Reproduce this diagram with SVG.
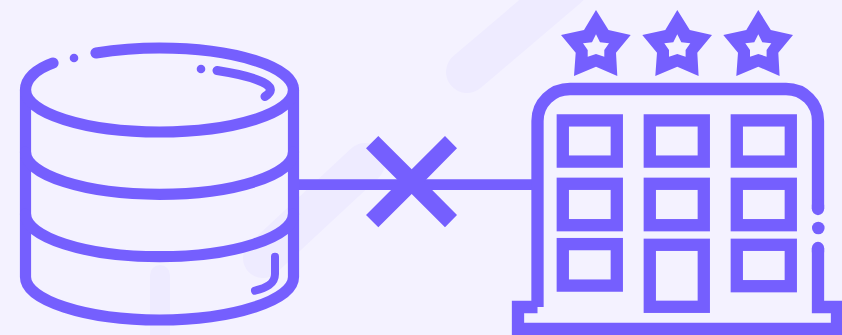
<svg xmlns="http://www.w3.org/2000/svg" width="842" height="335" viewBox="0 0 842 335">
<style>
.bg{stroke:#eeebff;fill:none;stroke-linecap:round}
.l{fill:none;stroke:#755ffe;stroke-width:11.2;stroke-linecap:round;stroke-linejoin:round}
.m{fill:none;stroke:#755ffe;stroke-width:12.3;stroke-miterlimit:10}
.f{fill:#755ffe}
</style>
<defs>
<path id="star" fill-rule="evenodd" d="M0 10 L12.500 30 L34.700 35 L20 52.700 L21.300 76 L0 66.700 L-22 76 L-20.300 52.700 L-35 35 L-12 30 Z M0 34.300 L-4 42.300 L-13 43.300 L-8.300 50 L-8.300 56.700 L0 54 L8.300 56.700 L8.300 50 L13 43.300 L4 42.300 Z"/>
</defs>
<rect width="842" height="335" fill="#f4f2ff"/>
<g id="decor">
<path class="bg" stroke-width="42" d="M467 72L567 -13"/>
<path class="bg" stroke-width="40" d="M365 163L263 258"/>
<path class="bg" stroke-width="20" d="M160 275V345"/>
</g>
<g id="connectors">
<path d="M296 184.700H534" stroke="#755ffe" stroke-width="10.700" fill="none"/>
</g>
<g id="database">
<path class="l" d="M53 63C36 69 25.500 79 25.500 90V277C25.500 300 85 320 159.500 320S293.500 300 293.500 277V90C293.500 67 234 48 159.500 48C137 48 115 50 96 53"/>
<path class="l" d="M25.500 90C25.500 113 85 132 159.500 132S293.500 113 293.500 90"/>
<path class="l" d="M25.500 152C25.500 175 85 194.300 159.500 194.300S293.500 175 293.500 152"/>
<path class="l" d="M25.500 214C25.500 237 85 256.700 159.500 256.700S293.500 237 293.500 214"/>
<circle class="f" cx="74" cy="58" r="4.300"/>
<circle class="f" cx="201" cy="69" r="4.300"/>
<path class="l" style="stroke-width:9" d="M217 70.500C240 74 258 79 266 84C272 88 272 92 265 96.500"/>
<path class="l" style="stroke-width:8" d="M275 256.700V274C275 284 266 288 255 290.700"/>
</g>
<g id="cross">
<path class="f" d="M378.300 136L411.700 169.300L445 136L457 148.300L424 181.700L457 215L445 227.300L411.700 194L378.300 227.300L366 215L399.300 181.700L366 148.300Z"/>
</g>
<g id="hotel">
<use href="#star" x="596" class="f"/>
<use href="#star" x="677.300" class="f"/>
<use href="#star" x="758.300" class="f"/>
<path class="m" d="M537.500 307V121C537.500 103 552 89 570 89H786C804 89 818 103 818 121V209"/>
<path class="l" style="stroke-width:12.300" d="M818 205V209M818 248V252"/>
<path class="m" d="M818 248V307H837V329H518V307H537.500"/>
<circle class="f" cx="818.300" cy="228" r="6.300"/>
<rect class="m" x="562.800" y="120.400" width="54" height="41.200"/>
<rect class="m" x="649.800" y="120.400" width="54" height="41.200"/>
<rect class="m" x="736.800" y="120.400" width="54" height="41.200"/>
<rect class="m" x="562.800" y="183.800" width="54" height="41.400"/>
<rect class="m" x="649.800" y="183.800" width="54" height="41.400"/>
<rect class="m" x="736.800" y="183.800" width="54" height="41.400"/>
<rect class="m" x="562.800" y="244.100" width="54" height="41.500"/>
<rect class="m" x="649.800" y="244.800" width="54" height="62"/>
<rect class="m" x="736.800" y="244.800" width="54" height="41.400"/>
</g>
</svg>
